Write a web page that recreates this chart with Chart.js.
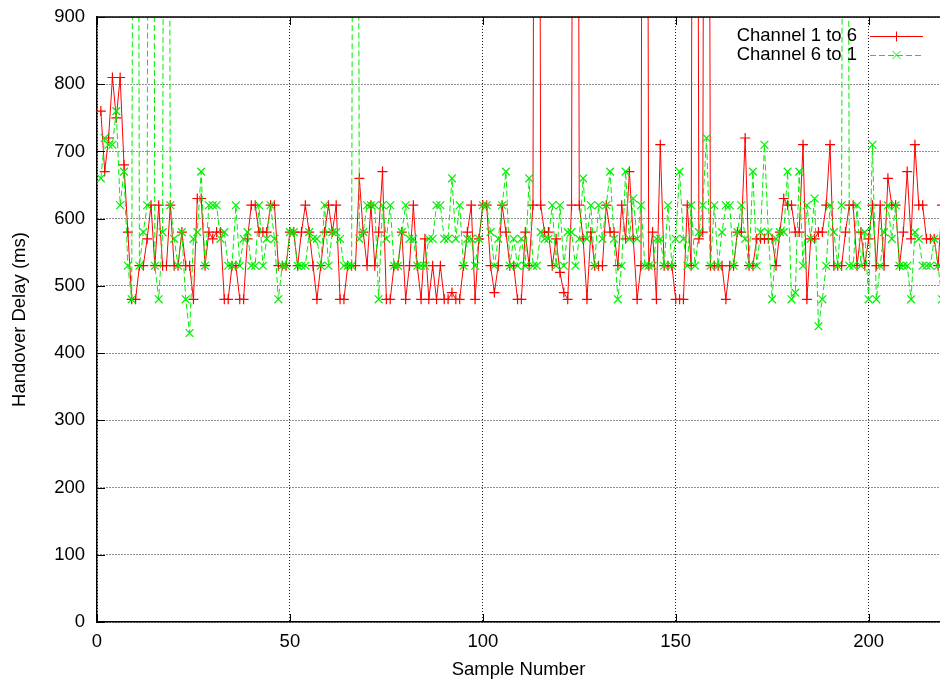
<!DOCTYPE html>
<html>
<head>
<meta charset="utf-8">
<title>Handover Delay</title>
<script src="https://cdn.jsdelivr.net/npm/chart.js@4.4.1/dist/chart.umd.min.js"></script>
<style>
    html, body { margin: 0; padding: 0; background: #fff; }
    #chart { display: block; }
</style>
</head>
<body>
<canvas id="chart" width="940" height="686"></canvas>
<script>
// samples that shoot off the top of the plot
var HIGH = 3000;

// Channel 1 to 6, samples 1..220
var channel1to6 = [
    760, 670, 720, 810, 750, 810, 680, 580, 480, 480,
    530, 530, 570, 620, 530, 620, 530, 530, 620, 530,
    530, 580, 530, 530, 480, 630, 630, 530, 580, 570,
    580, 580, 480, 480, 530, 530, 480, 480, 570, 620,
    620, 580, 580, 580, 620, 620, 530, 530, 530, 580,
    580, 530, 580, 620, 580, 530, 480, 530, 580, 620,
    580, 620, 480, 480, 530, 530, 530, 660, 580, 530,
    620, 530, 580, 670, 480, 480, 530, 530, 580, 480,
    530, 620, 530, 480, 570, 480, 530, 480, 530, 480,
    480, 490, 480, 480, 530, 580, 620, 480, 570, 620,
    620, 530, 490, 530, 620, 580, 530, 530, 480, 480,
    580, 530, 620, HIGH, 620, 580, 580, 530, 570, 520,
    490, 480, 620, HIGH, 620, 570, 480, 580, 530, 530,
    530, 620, 580, 580, 530, 620, 570, 670, 570, 480,
    530, HIGH, 530, 580, 480, 710, 530, 530, 530, 480,
    480, 480, 620, 530, HIGH, 570, 580, HIGH, 530, 530,
    530, 530, 480, 530, 530, 580, 580, 720, 530, 530,
    570, 570, 570, 570, 570, 530, 580, 630, 620, 620,
    580, 580, 710, 480, 570, 570, 580, 580, 620, 710,
    530, 530, 530, 580, 620, 620, 530, 580, 530, 570,
    620, 530, 620, 530, 660, 620, 620, 530, 580, 670,
    570, 710, 620, 620, 570, 570, 570, 530, 620, 570
];

// Channel 6 to 1, samples 1..220
var channel6to1 = [
    660, 720, 710, 710, 760, 620, 670, 530, 480, HIGH,
    530, 580, 620, HIGH, 530, 480, 580, HIGH, 620, 570,
    530, 580, 480, 430, 570, 580, 670, 530, 620, 620,
    620, 570, 580, 530, 530, 620, 530, 570, 580, 530,
    530, 620, 530, 570, 620, 570, 480, 530, 530, 580,
    580, 530, 530, 530, 580, 570, 570, 530, 620, 530,
    580, 580, 570, 530, 530, 530, HIGH, 570, 580, 620,
    620, 620, 480, 620, 570, 620, 530, 530, 580, 620,
    570, 570, 530, 530, 530, 570, 570, 620, 620, 570,
    570, 660, 570, 620, 530, 570, 570, 530, 570, 620,
    620, 580, 530, 570, 620, 670, 530, 570, 530, 570,
    530, 660, 530, 530, 580, 570, 570, 620, 530, 620,
    530, 580, 580, 530, 570, 660, 570, 620, 530, 620,
    570, 620, 670, 570, 480, 530, 670, 570, 630, 570,
    620, 530, 530, 530, 570, 570, 530, 620, 530, 570,
    670, 570, 530, 620, 530, 580, 620, 720, 530, 620,
    530, 580, 620, 620, 530, 580, 620, 570, 530, 670,
    530, 580, 710, 580, 480, 570, 580, 580, 670, 480,
    490, 670, 530, 620, 570, 630, 440, 480, 530, 620,
    580, 530, 620, HIGH, 530, 530, 620, 530, 580, 480,
    710, 480, 530, 580, 620, 570, 620, 530, 530, 530,
    480, 580, 570, 530, 530, 530, 570, 530, 480, 570
];

var xTicks = [0, 50, 100, 150, 200];
var yTicks = [0, 100, 200, 300, 400, 500, 600, 700, 800, 900];
var seriesNames = ['Channel 1 to 6', 'Channel 6 to 1'];

var FONT = '"Liberation Sans", Arial, Helvetica, sans-serif';

var toPoints = function(values) {
    return values.map(function(v, i) {
        return {x: i + 1, y: v};
    });
};

// gnuplot style frame: top border and inward tick marks
var framePlugin = {
    id: 'frame',
    afterDraw: function(chart) {
        var ctx = chart.ctx;
        var area = chart.chartArea;
        var xs = chart.scales.x;
        var ys = chart.scales.y;
        ctx.save();
        ctx.strokeStyle = '#000';
        ctx.lineWidth = 1.5;
        ctx.beginPath();
        ctx.moveTo(area.left, area.top);
        ctx.lineTo(area.right, area.top);
        ctx.stroke();

        ctx.lineWidth = 1;
        ctx.beginPath();
        xTicks.forEach(function(v) {
            var px = Math.round(xs.getPixelForValue(v)) + 0.5;
            ctx.moveTo(px, area.bottom);
            ctx.lineTo(px, area.bottom - 8);
            ctx.moveTo(px, area.top);
            ctx.lineTo(px, area.top + 8);
        });
        yTicks.forEach(function(v) {
            var py = Math.round(ys.getPixelForValue(v)) + 0.5;
            ctx.moveTo(area.left, py);
            ctx.lineTo(area.left + 8, py);
        });
        ctx.stroke();
        ctx.restore();
    }
};

// key in the top right corner, drawn the way gnuplot does it
var keyPlugin = {
    id: 'key',
    afterDraw: function(chart) {
        var ctx = chart.ctx;
        var rows = [36, 55];
        ctx.save();
        chart.data.datasets.forEach(function(ds, k) {
            var y = rows[k];
            ctx.fillStyle = '#000';
            ctx.font = '18.5px ' + FONT;
            ctx.textAlign = 'right';
            ctx.textBaseline = 'middle';
            ctx.fillText(ds.label, 857, y);

            ctx.strokeStyle = ds.borderColor;
            ctx.lineWidth = 1;
            ctx.setLineDash(ds.borderDash || []);
            ctx.beginPath();
            ctx.moveTo(870, y + 0.5);
            ctx.lineTo(923, y + 0.5);
            ctx.stroke();
            ctx.setLineDash([]);

            var cx = 896.5;
            ctx.beginPath();
            if (ds.pointStyle === 'cross') {
                ctx.moveTo(cx - 5, y + 0.5);
                ctx.lineTo(cx + 5, y + 0.5);
                ctx.moveTo(cx, y - 4.5);
                ctx.lineTo(cx, y + 5.5);
            } else {
                ctx.moveTo(cx - 4, y - 4);
                ctx.lineTo(cx + 4, y + 4);
                ctx.moveTo(cx - 4, y + 4);
                ctx.lineTo(cx + 4, y - 4);
            }
            ctx.stroke();
        });
        ctx.restore();
    }
};

Chart.defaults.font.family = FONT;
Chart.defaults.color = '#000';

new Chart(document.getElementById('chart'), {
    type: 'line',
    data: {
        datasets: [
            {
                label: seriesNames[0],
                data: toPoints(channel1to6),
                borderColor: '#ff0000',
                borderWidth: 1,
                pointStyle: 'cross',
                pointRadius: 5,
                pointBorderWidth: 1.2,
                pointBorderColor: '#ff0000',
                tension: 0,
                order: 1,
                clip: {left: 6, top: 0, right: 0, bottom: 6}
            },
            {
                label: seriesNames[1],
                data: toPoints(channel6to1),
                borderColor: '#00ee00',
                borderWidth: 1,
                borderDash: [6, 3],
                pointStyle: 'crossRot',
                pointRadius: 5.5,
                pointBorderWidth: 1.2,
                pointBorderColor: '#00ee00',
                tension: 0,
                order: 0,
                clip: {left: 6, top: 0, right: 0, bottom: 6}
            }
        ]
    },
    options: {
        responsive: false,
        animation: false,
        devicePixelRatio: 1,
        layout: {
            autoPadding: false,
            padding: {top: 17, right: 0, bottom: 0, left: 0}
        },
        plugins: {
            legend: {display: false},
            tooltip: {enabled: false}
        },
        scales: {
            x: {
                type: 'linear',
                min: 0,
                max: 218.5,
                afterBuildTicks: function(scale) {
                    scale.ticks = xTicks.map(function(v) { return {value: v}; });
                },
                afterFit: function(scale) {
                    scale.height = 64;
                    scale.paddingLeft = 0;
                    scale.paddingRight = 0;
                },
                grid: {
                    color: '#222',
                    lineWidth: 1,
                    drawTicks: false
                },
                border: {
                    display: true,
                    color: '#000',
                    width: 1.5,
                    dash: [1, 2]
                },
                ticks: {
                    font: {size: 18.5},
                    padding: 9,
                    maxRotation: 0,
                    autoSkip: false
                },
                title: {
                    display: true,
                    text: 'Sample Number',
                    font: {size: 18.5},
                    padding: {top: 0, bottom: 5}
                }
            },
            y: {
                min: 0,
                max: 900,
                afterBuildTicks: function(scale) {
                    scale.ticks = yTicks.map(function(v) { return {value: v}; });
                },
                afterFit: function(scale) {
                    scale.width = 97;
                    scale.paddingTop = 0;
                    scale.paddingBottom = 0;
                },
                grid: {
                    color: '#222',
                    lineWidth: 1,
                    drawTicks: false
                },
                border: {
                    display: true,
                    color: '#000',
                    width: 1.5,
                    dash: [1, 2]
                },
                ticks: {
                    font: {size: 18.5},
                    padding: 12,
                    autoSkip: false
                },
                title: {
                    display: true,
                    text: 'Handover Delay (ms)',
                    font: {size: 18.5},
                    padding: {top: 9, bottom: 0}
                }
            }
        }
    },
    plugins: [framePlugin, keyPlugin]
});
</script>
</body>
</html>
